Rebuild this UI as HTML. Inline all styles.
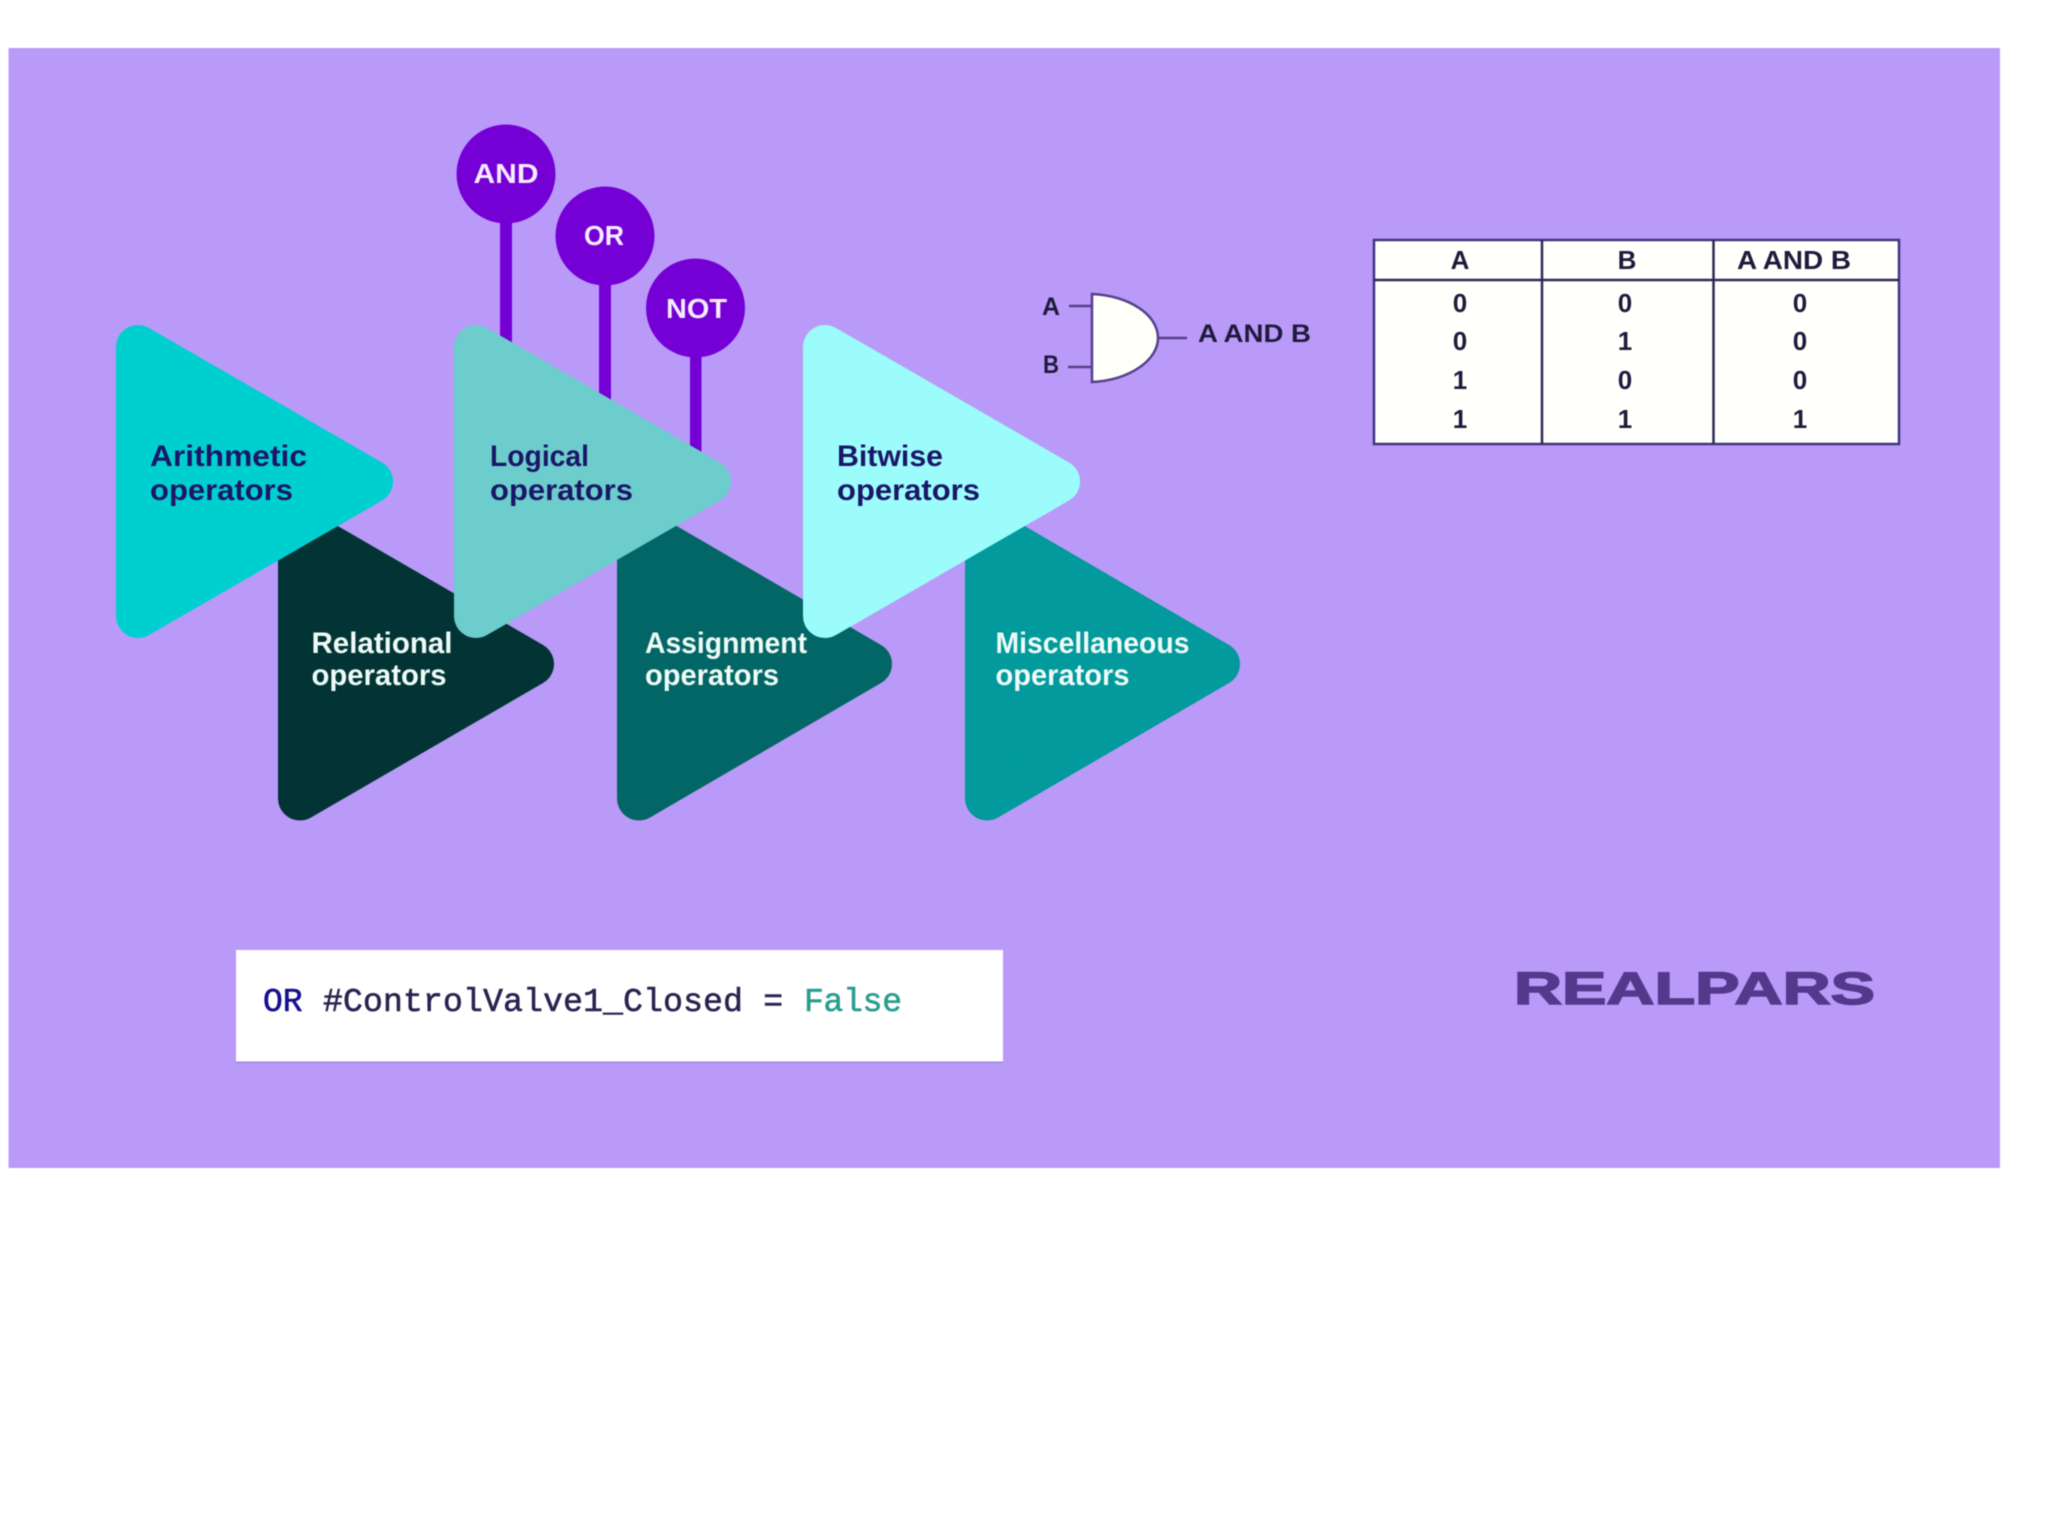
<!DOCTYPE html>
<html lang="en"><head><meta charset="utf-8"><title>Operators</title>
<style>
html,body{margin:0;padding:0;background:#fff;width:2048px;height:1536px;overflow:hidden}
svg{display:block;filter:blur(.6px)}
text{font-family:"Liberation Sans",sans-serif;font-weight:700}
.d{fill:#1a1668;font-size:30px}
.l{fill:#eefbf6;font-size:30px}
.c{fill:#f6ecff;font-size:28px}
.k{fill:#1e1a3c;font-size:25px}
.t{fill:#1e1a3c;font-size:26px;text-anchor:middle}
.m{font-family:"Liberation Mono",monospace;font-size:33px;font-weight:400;stroke-width:.6px}
</style></head><body>
<svg width="2048" height="1536" viewBox="0 0 2048 1536" xmlns="http://www.w3.org/2000/svg">
<rect width="2048" height="1536" fill="#ffffff"/>
<rect x="8.500" y="48" width="1991.500" height="1120" fill="#ba9af8"/>

<g fill="#7500d6">
<rect x="500" y="210" width="12" height="140"/>
<rect x="599" y="270" width="12" height="140"/>
<rect x="690" y="340" width="11.500" height="120"/>
<circle cx="506" cy="174" r="49.500"/>
<circle cx="605" cy="236" r="49.500"/>
<circle cx="695.500" cy="308" r="49.500"/>
</g>

<g stroke-width="44" stroke-linejoin="round">
<polygon points="300,529.500 300,798.500 532,664" fill="#023436" stroke="#023436"/>
<polygon points="639,529.500 639,798.500 870,664" fill="#036666" stroke="#036666"/>
<polygon points="987,529.500 987,798.500 1218,664" fill="#029a9c" stroke="#029a9c"/>
<polygon points="138,347 138,616 371,481.500" fill="#00cfd0" stroke="#00cfd0"/>
<polygon points="476,347 476,616 709,481.500" fill="#6ccdcc" stroke="#6ccdcc"/>
<polygon points="825,347 825,616 1058,481.500" fill="#9cfcfc" stroke="#9cfcfc"/>
</g>

<text class="c" x="473.500" y="183" textLength="65" lengthAdjust="spacingAndGlyphs">AND</text>
<text class="c" x="584" y="245" textLength="40" lengthAdjust="spacingAndGlyphs">OR</text>
<text class="c" x="666" y="318" textLength="61" lengthAdjust="spacingAndGlyphs">NOT</text>

<text class="d" x="150" y="466" textLength="157" lengthAdjust="spacingAndGlyphs">Arithmetic</text>
<text class="d" x="150" y="500" textLength="143" lengthAdjust="spacingAndGlyphs">operators</text>
<text class="d" x="490" y="466" textLength="99" lengthAdjust="spacingAndGlyphs">Logical</text>
<text class="d" x="490" y="500" textLength="143" lengthAdjust="spacingAndGlyphs">operators</text>
<text class="d" x="837" y="466" textLength="106" lengthAdjust="spacingAndGlyphs">Bitwise</text>
<text class="d" x="837" y="500" textLength="143" lengthAdjust="spacingAndGlyphs">operators</text>
<text class="l" x="311.500" y="653" textLength="141" lengthAdjust="spacingAndGlyphs">Relational</text>
<text class="l" x="311.500" y="685" textLength="135" lengthAdjust="spacingAndGlyphs">operators</text>
<text class="l" x="645" y="653" textLength="162" lengthAdjust="spacingAndGlyphs">Assignment</text>
<text class="l" x="645" y="685" textLength="134" lengthAdjust="spacingAndGlyphs">operators</text>
<text class="l" x="995.500" y="653" textLength="194" lengthAdjust="spacingAndGlyphs">Miscellaneous</text>
<text class="l" x="995.500" y="685" textLength="134" lengthAdjust="spacingAndGlyphs">operators</text>

<!-- AND gate -->
<g stroke="#55408a" stroke-width="2.500" fill="none">
<path d="M1069 306H1092M1068 367H1092M1158 338H1187"/>
<path d="M1092 294C1130 296 1158 315 1158 338C1158 360 1130 380 1092 382Z" fill="#fffffa"/>
</g>
<text class="k" x="1042" y="315" textLength="18" lengthAdjust="spacingAndGlyphs">A</text>
<text class="k" x="1043" y="373" textLength="16" lengthAdjust="spacingAndGlyphs">B</text>
<text class="k" x="1198" y="342" textLength="113" lengthAdjust="spacingAndGlyphs">A AND B</text>

<!-- Truth table -->
<rect x="1374" y="240" width="525" height="204" fill="#fffffb" stroke="#3f3580" stroke-width="2.500"/>
<path d="M1374 280H1899M1542 240V444M1713.500 240V444" stroke="#2f2a55" stroke-width="2.500" fill="none"/>
<text class="t" x="1460" y="269">A</text>
<text class="t" x="1627" y="269">B</text>
<text class="t" x="1794" y="269" textLength="114" lengthAdjust="spacingAndGlyphs">A AND B</text>
<text class="t" x="1460" y="312">0</text><text class="t" x="1625" y="312">0</text><text class="t" x="1800" y="312">0</text>
<text class="t" x="1460" y="350">0</text><text class="t" x="1625" y="350">1</text><text class="t" x="1800" y="350">0</text>
<text class="t" x="1460" y="389">1</text><text class="t" x="1625" y="389">0</text><text class="t" x="1800" y="389">0</text>
<text class="t" x="1460" y="428">1</text><text class="t" x="1625" y="428">1</text><text class="t" x="1800" y="428">1</text>

<!-- Code box -->
<rect x="236" y="952" width="767" height="111" fill="#8f78c4" opacity=".6"/>
<rect x="236" y="950" width="767" height="111.500" fill="#ffffff"/>
<text class="m" x="263" y="1011" fill="#16108f" stroke="#16108f">OR</text>
<text class="m" x="323" y="1011" fill="#2a2350" stroke="#2a2350" textLength="460">#ControlValve1_Closed =</text>
<text class="m" x="804" y="1011" fill="#2a9d8f" stroke="#2a9d8f" textLength="98">False</text>

<!-- Logo -->
<text x="1514" y="1004" textLength="361" lengthAdjust="spacingAndGlyphs" fill="#54388c" stroke="#54388c" stroke-width="1.500" style="font-size:45px">REALPARS</text>
</svg>
</body></html>
